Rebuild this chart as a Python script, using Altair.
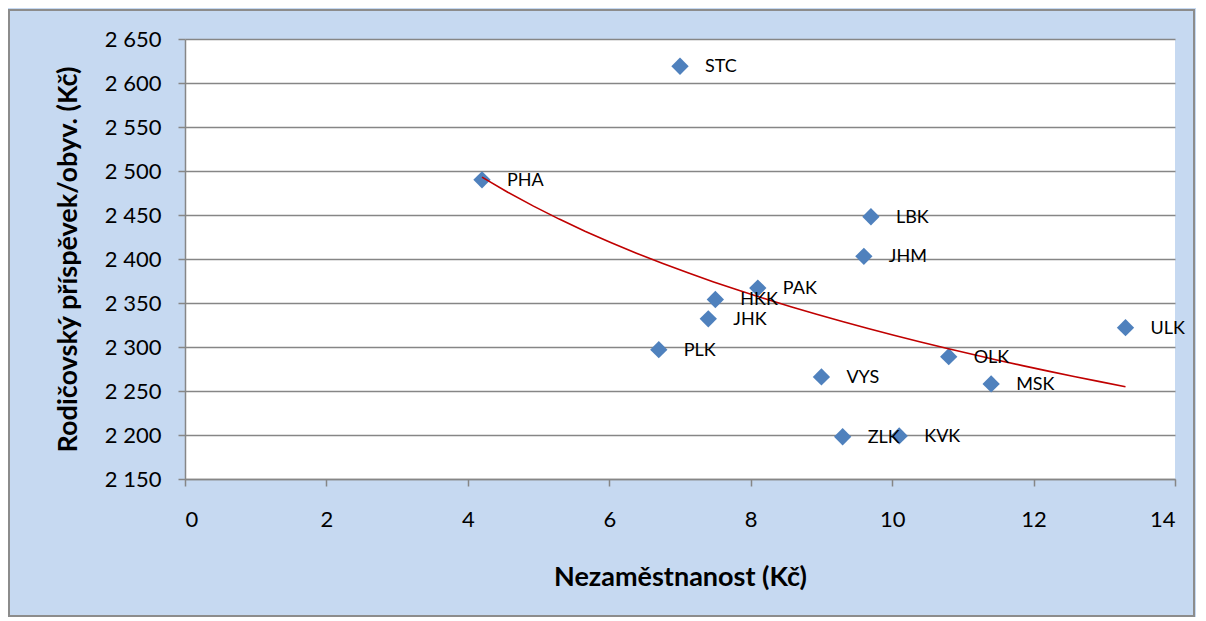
import altair as alt
import pandas as pd

regions = ["STC", "PHA", "LBK", "JHM", "PAK", "HKK", "JHK", "PLK", "ULK", "OLK", "VYS", "MSK", "ZLK", "KVK"]
unemployment = [7.0, 4.2, 9.7, 9.6, 8.1, 7.5, 7.4, 6.7, 13.3, 10.8, 9.0, 11.4, 9.3, 10.1]
contribution = [2619, 2490, 2448, 2403, 2367, 2354, 2332, 2297, 2322, 2289, 2266, 2258, 2198, 2199]

x_ticks = [0, 2, 4, 6, 8, 10, 12, 14]
y_ticks = [2150, 2200, 2250, 2300, 2350, 2400, 2450, 2500, 2550, 2600, 2650]

df = pd.DataFrame({"kraj": regions, "x": unemployment, "y": contribution})

FONT = "Lato"
W, H = 990, 440
PL, PT, PR, PB = 177, 31, 21, 138

x_enc = alt.X(
    "x:Q",
    scale=alt.Scale(domain=[0, 14], nice=False, zero=False),
    axis=alt.Axis(
        values=x_ticks,
        format="d",
        title="Nezaměstnanost (Kč)",
        grid=False,
        tickSize=7,
        labelPadding=23,
        titlePadding=34,
    ),
)
y_enc = alt.Y(
    "y:Q",
    scale=alt.Scale(domain=[2150, 2650], nice=False, zero=False),
    axis=alt.Axis(
        values=y_ticks,
        title="Rodičovský příspěvek/obyv. (Kč)",
        grid=True,
        tickSize=7,
        labelPadding=17,
        titlePadding=22,
        labelExpr="replace(format(datum.value, ','), ',', ' ')",
    ),
)

base = alt.Chart(df)

frame = base.mark_rect(fill="transparent", stroke="#8c8c8c", strokeWidth=1.5).encode(
    x=alt.value(-PL + 0.5),
    x2=alt.value(W + PR - 2),
    y=alt.value(-PT + 2),
    y2=alt.value(H + PB - 1),
)

points = base.mark_point(shape="diamond", filled=True, size=300, color="#4F81BD", opacity=1).encode(
    x=x_enc, y=y_enc
)

labels = base.mark_text(
    align="left", baseline="middle", dx=25, dy=1, font=FONT, fontSize=18, color="#000000"
).encode(x="x:Q", y="y:Q", text="kraj:N")

trend = base.transform_regression("x", "y", method="log").mark_line(
    color="#C00000", strokeWidth=1.6
).encode(x="x:Q", y="y:Q")

chart = (
    alt.layer(frame, points, trend, labels)
    .properties(
        width=W,
        height=H,
        padding={"left": PL, "top": PT, "right": PR, "bottom": PB},
        autosize=alt.AutoSizeParams(type="none"),
        background="#C6D9F1",
    )
    .configure_view(fill="white", stroke=None)
    .configure_axis(
        labelFont=FONT,
        labelFontSize=22,
        labelColor="#000000",
        titleFont=FONT,
        titleFontSize=27,
        titleFontWeight="bold",
        titleColor="#000000",
        domainColor="#868686",
        tickColor="#868686",
        gridColor="#868686",
        domainWidth=1.5,
        tickWidth=1.5,
        gridWidth=1.5,
    )
)

chart.save("out.html", embed_options={"renderer": "svg", "actions": False})
